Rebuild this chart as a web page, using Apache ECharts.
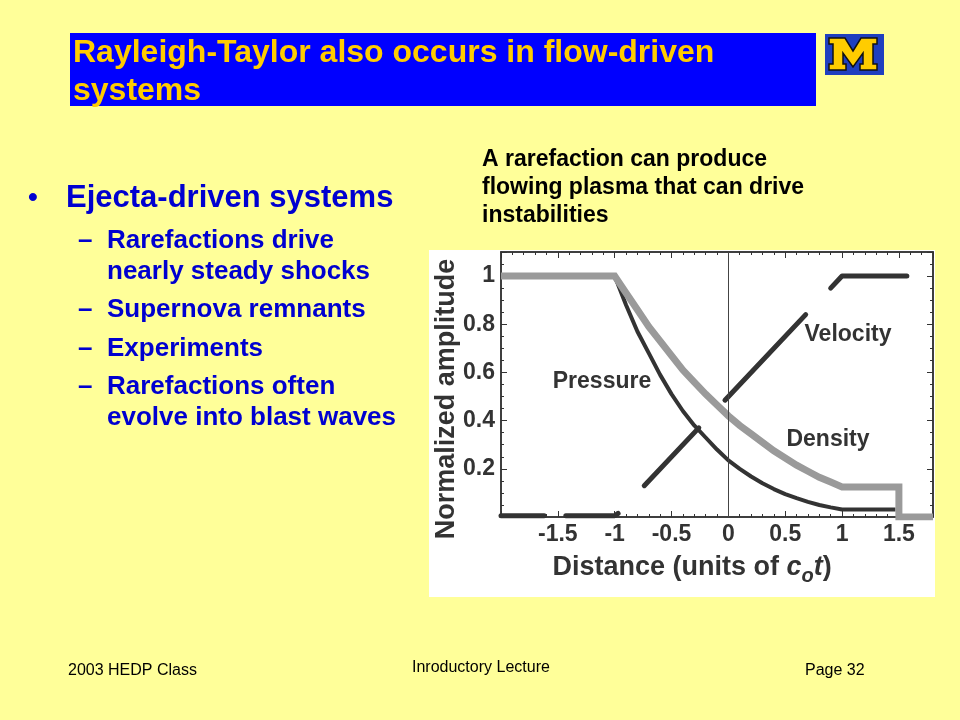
<!DOCTYPE html>
<html>
<head>
<meta charset="utf-8">
<script src="https://cdn.jsdelivr.net/npm/echarts@6/dist/echarts.min.js"></script>
<style>
html,body{margin:0;padding:0;background:#FFFF99;}
#main{width:960px;height:720px;}
</style>
</head>
<body>
<div id="main"></div>
<script>
// ---- data ----
var xTickLabels = ['-1.5', '-1', '-0.5', '0', '0.5', '1', '1.5'];
var yTickLabels = ['0.2', '0.4', '0.6', '0.8', '1'];

var densityX = [-2, -1, -0.9, -0.8, -0.7, -0.6, -0.5, -0.4, -0.3, -0.2, -0.1, 0, 0.1, 0.2, 0.3, 0.4, 0.5, 0.6, 0.7, 0.8, 0.9, 1, 1.5, 1.5, 1.8];
var densityY = [1, 1, 0.93, 0.86, 0.79, 0.73, 0.67, 0.61, 0.56, 0.51, 0.465, 0.42, 0.38, 0.345, 0.31, 0.275, 0.245, 0.215, 0.19, 0.165, 0.145, 0.125, 0.125, 0, 0];

var pressureX = [-2, -1, -0.9, -0.8, -0.7, -0.6, -0.5, -0.4, -0.3, -0.2, -0.1, 0, 0.1, 0.2, 0.3, 0.4, 0.5, 0.6, 0.7, 0.8, 0.9, 1, 1.47];
var pressureY = [1, 1, 0.88, 0.77, 0.68, 0.59, 0.51, 0.44, 0.38, 0.33, 0.28, 0.235, 0.2, 0.168, 0.14, 0.116, 0.095, 0.078, 0.063, 0.05, 0.04, 0.031, 0.031];

// velocity is drawn as broken pieces (gaps where the labels sit)
var velocitySeg1X = [-2, -1.62];
var velocitySeg1Y = [0.005, 0.005];
var velocitySeg2X = [-1.43, -1.0, -0.97];
var velocitySeg2Y = [0.005, 0.005, 0.015];
var velocitySeg3X = [-0.74, -0.26];
var velocitySeg3Y = [0.13, 0.37];
var velocitySeg4X = [-0.03, 0.68];
var velocitySeg4Y = [0.485, 0.84];
var velocitySeg5X = [0.9, 1.0, 1.57];
var velocitySeg5Y = [0.95, 1.0, 1.0];

function pairs(xs, ys) { return xs.map(function (x, i) { return [x, ys[i]]; }); }

var velocitySegments = [
  pairs(velocitySeg1X, velocitySeg1Y),
  pairs(velocitySeg2X, velocitySeg2Y),
  pairs(velocitySeg3X, velocitySeg3Y),
  pairs(velocitySeg4X, velocitySeg4Y),
  pairs(velocitySeg5X, velocitySeg5Y)
];

var DARK = '#333333';
var GRAY = '#9a9a9a';
var BLUE = '#0000D0';
var FONT = "'Liberation Sans', Arial, Helvetica, sans-serif";

function fmtX(v) {
  var s = String(Math.round(v * 10) / 10);
  return xTickLabels.indexOf(s) >= 0 ? s : '';
}
function fmtY(v) {
  var s = String(Math.round(v * 10) / 10);
  return yTickLabels.indexOf(s) >= 0 ? s : '';
}

// x-axis title pieces (regular, italic c, subscript o, italic t, closing paren)
var mctx = document.createElement('canvas').getContext('2d');
function tw(font, s) { mctx.font = font; return mctx.measureText(s).width; }
var fMain = 'bold 27px ' + FONT;
var fIt = 'italic bold 27px ' + FONT;
var fSub = 'italic bold 20px ' + FONT;
var xtParts = [
  {t: 'Distance (units of ', f: fMain, dy: 0},
  {t: 'c', f: fIt, dy: 0},
  {t: 'o', f: fSub, dy: 8},
  {t: 't', f: fIt, dy: 0},
  {t: ')', f: fMain, dy: 0}
];
var xtTotal = xtParts.reduce(function (a, p) { return a + tw(p.f, p.t); }, 0);
var xtX = 692 - xtTotal / 2;
var xtGraphics = xtParts.map(function (p) {
  var g = {type: 'text', x: xtX, y: 568 + p.dy,
    style: {text: p.t, fill: DARK, font: p.f, textVerticalAlign: 'middle'}};
  xtX += tw(p.f, p.t);
  return g;
});

var chart = echarts.init(document.getElementById('main'), null, {renderer: 'canvas'});

var axisCommon = {
  type: 'value',
  axisLine: {show: true, onZero: false, lineStyle: {color: DARK, width: 1.5}},
  axisTick: {show: true, inside: true, length: 6, lineStyle: {color: DARK, width: 1}},
  minorTick: {show: true, length: 3, lineStyle: {color: DARK, width: 1}},
  splitLine: {show: false},
  minorSplitLine: {show: false}
};

var series = [];
series.push({
  type: 'line', name: 'Pressure', data: pairs(pressureX, pressureY),
  showSymbol: false, symbol: 'none', z: 2,
  lineStyle: {color: DARK, width: 4}, silent: true, animation: false
});
series.push({
  type: 'line', name: 'Density', data: pairs(densityX, densityY),
  showSymbol: false, symbol: 'none', z: 3,
  lineStyle: {color: GRAY, width: 7, join: 'miter'}, silent: true, animation: false,
  markLine: {
    silent: true, symbol: ['none', 'none'], label: {show: false},
    lineStyle: {color: '#444', width: 1, type: 'solid'},
    data: [{xAxis: 0}], animation: false
  }
});
velocitySegments.forEach(function (seg, i) {
  series.push({
    type: 'line', name: 'Velocity' + (i ? ' ' + i : ''), data: seg,
    showSymbol: false, symbol: 'none', z: 4,
    lineStyle: {color: DARK, width: 5, cap: 'round', join: 'round'},
    silent: true, animation: false
  });
});

var graphics = [
  // white figure background
  {type: 'rect', z: -20, shape: {x: 429, y: 250, width: 506, height: 347}, style: {fill: '#ffffff'}},
  // title box
  {type: 'rect', z: -10, shape: {x: 70, y: 33, width: 746, height: 73}, style: {fill: '#0000FF'}},
  {type: 'text', x: 73, y: 53, style: {text: 'Rayleigh-Taylor also occurs in flow-driven', fill: '#FFCC00',
    font: 'bold 32px ' + FONT, textVerticalAlign: 'middle'}},
  {type: 'text', x: 73, y: 91, style: {text: 'systems', fill: '#FFCC00',
    font: 'bold 32px ' + FONT, textVerticalAlign: 'middle'}},
  // logo
  {type: 'rect', shape: {x: 825, y: 34, width: 59, height: 41}, style: {fill: '#1f3fbf'}},
  {type: 'polygon', shape: {points: [[829,38],[845,38],[853,51],[861,38],[877,38],[877,44],[873,44],[873,64],[877,64],[877,70],[860,70],[860,64],[863,64],[863,53],[853,67],[843,53],[843,64],[846,64],[846,70],[829,70],[829,64],[833,64],[833,44],[829,44]]},
    style: {fill: '#FFCC00', stroke: '#111', lineWidth: 1.5}},
  // bullets
  {type: 'text', x: 28, y: 198, style: {text: '•', fill: BLUE, font: 'bold 28px ' + FONT, textVerticalAlign: 'middle'}},
  {type: 'text', x: 66, y: 198, style: {text: 'Ejecta-driven systems', fill: BLUE, font: 'bold 31px ' + FONT, textVerticalAlign: 'middle'}},
  {type: 'text', x: 78, y: 241, style: {text: '–', fill: BLUE, font: 'bold 26px ' + FONT, textVerticalAlign: 'middle'}},
  {type: 'text', x: 107, y: 241, style: {text: 'Rarefactions drive', fill: BLUE, font: 'bold 26px ' + FONT, textVerticalAlign: 'middle'}},
  {type: 'text', x: 107, y: 272, style: {text: 'nearly steady shocks', fill: BLUE, font: 'bold 26px ' + FONT, textVerticalAlign: 'middle'}},
  {type: 'text', x: 78, y: 310, style: {text: '–', fill: BLUE, font: 'bold 26px ' + FONT, textVerticalAlign: 'middle'}},
  {type: 'text', x: 107, y: 310, style: {text: 'Supernova remnants', fill: BLUE, font: 'bold 26px ' + FONT, textVerticalAlign: 'middle'}},
  {type: 'text', x: 78, y: 349, style: {text: '–', fill: BLUE, font: 'bold 26px ' + FONT, textVerticalAlign: 'middle'}},
  {type: 'text', x: 107, y: 349, style: {text: 'Experiments', fill: BLUE, font: 'bold 26px ' + FONT, textVerticalAlign: 'middle'}},
  {type: 'text', x: 78, y: 387, style: {text: '–', fill: BLUE, font: 'bold 26px ' + FONT, textVerticalAlign: 'middle'}},
  {type: 'text', x: 107, y: 387, style: {text: 'Rarefactions often', fill: BLUE, font: 'bold 26px ' + FONT, textVerticalAlign: 'middle'}},
  {type: 'text', x: 107, y: 418, style: {text: 'evolve into blast waves', fill: BLUE, font: 'bold 26px ' + FONT, textVerticalAlign: 'middle'}},
  // caption
  {type: 'text', x: 482, y: 160, style: {text: 'A rarefaction can produce', fill: '#000', font: 'bold 23px ' + FONT, textVerticalAlign: 'middle'}},
  {type: 'text', x: 482, y: 188, style: {text: 'flowing plasma that can drive', fill: '#000', font: 'bold 23px ' + FONT, textVerticalAlign: 'middle'}},
  {type: 'text', x: 482, y: 216, style: {text: 'instabilities', fill: '#000', font: 'bold 23px ' + FONT, textVerticalAlign: 'middle'}},
  // curve labels
  {type: 'text', x: 602, y: 382, style: {text: 'Pressure', fill: DARK, font: 'bold 23px ' + FONT, textAlign: 'center', textVerticalAlign: 'middle'}},
  {type: 'text', x: 848, y: 335, style: {text: 'Velocity', fill: DARK, font: 'bold 23px ' + FONT, textAlign: 'center', textVerticalAlign: 'middle'}},
  {type: 'text', x: 828, y: 440, style: {text: 'Density', fill: DARK, font: 'bold 23px ' + FONT, textAlign: 'center', textVerticalAlign: 'middle'}},
  // y axis title
  {type: 'text', x: 447, y: 399, rotation: Math.PI / 2, style: {text: 'Normalized amplitude', fill: DARK,
    font: 'bold 27px ' + FONT, textAlign: 'center', textVerticalAlign: 'middle'}},
  // footer
  {type: 'text', x: 68, y: 671, style: {text: '2003 HEDP Class', fill: '#000', font: '16px ' + FONT, textVerticalAlign: 'middle'}},
  {type: 'text', x: 412, y: 668, style: {text: 'Inroductory Lecture', fill: '#000', font: '16px ' + FONT, textVerticalAlign: 'middle'}},
  {type: 'text', x: 805, y: 671, style: {text: 'Page 32', fill: '#000', font: '16px ' + FONT, textVerticalAlign: 'middle'}}
].concat(xtGraphics);

var option = {
  backgroundColor: '#FFFF99',
  animation: false,
  grid: {left: 501, top: 252, width: 432, height: 265, show: true,
         borderColor: DARK, borderWidth: 1.5, backgroundColor: '#ffffff'},
  xAxis: [
    Object.assign({}, axisCommon, {
      position: 'bottom', min: -2, max: 1.8, interval: 0.5,
      minorTick: Object.assign({}, axisCommon.minorTick, {splitNumber: 5}),
      axisLabel: {show: true, margin: 6, color: DARK, fontSize: 23, fontWeight: 'bold',
                  fontFamily: FONT, formatter: fmtX}
    }),
    Object.assign({}, axisCommon, {
      position: 'top', min: -2, max: 1.8, interval: 0.5,
      minorTick: Object.assign({}, axisCommon.minorTick, {splitNumber: 5}),
      axisLabel: {show: false}
    })
  ],
  yAxis: [
    Object.assign({}, axisCommon, {
      position: 'left', min: 0, max: 1.1, interval: 0.2,
      minorTick: Object.assign({}, axisCommon.minorTick, {splitNumber: 4}),
      axisLabel: {show: true, margin: 6, color: DARK, fontSize: 23, fontWeight: 'bold',
                  fontFamily: FONT, formatter: fmtY}
    }),
    Object.assign({}, axisCommon, {
      position: 'right', min: 0, max: 1.1, interval: 0.2,
      minorTick: Object.assign({}, axisCommon.minorTick, {splitNumber: 4}),
      axisLabel: {show: false}
    })
  ],
  series: series,
  graphic: graphics
};
chart.setOption(option);
</script>
</body>
</html>
